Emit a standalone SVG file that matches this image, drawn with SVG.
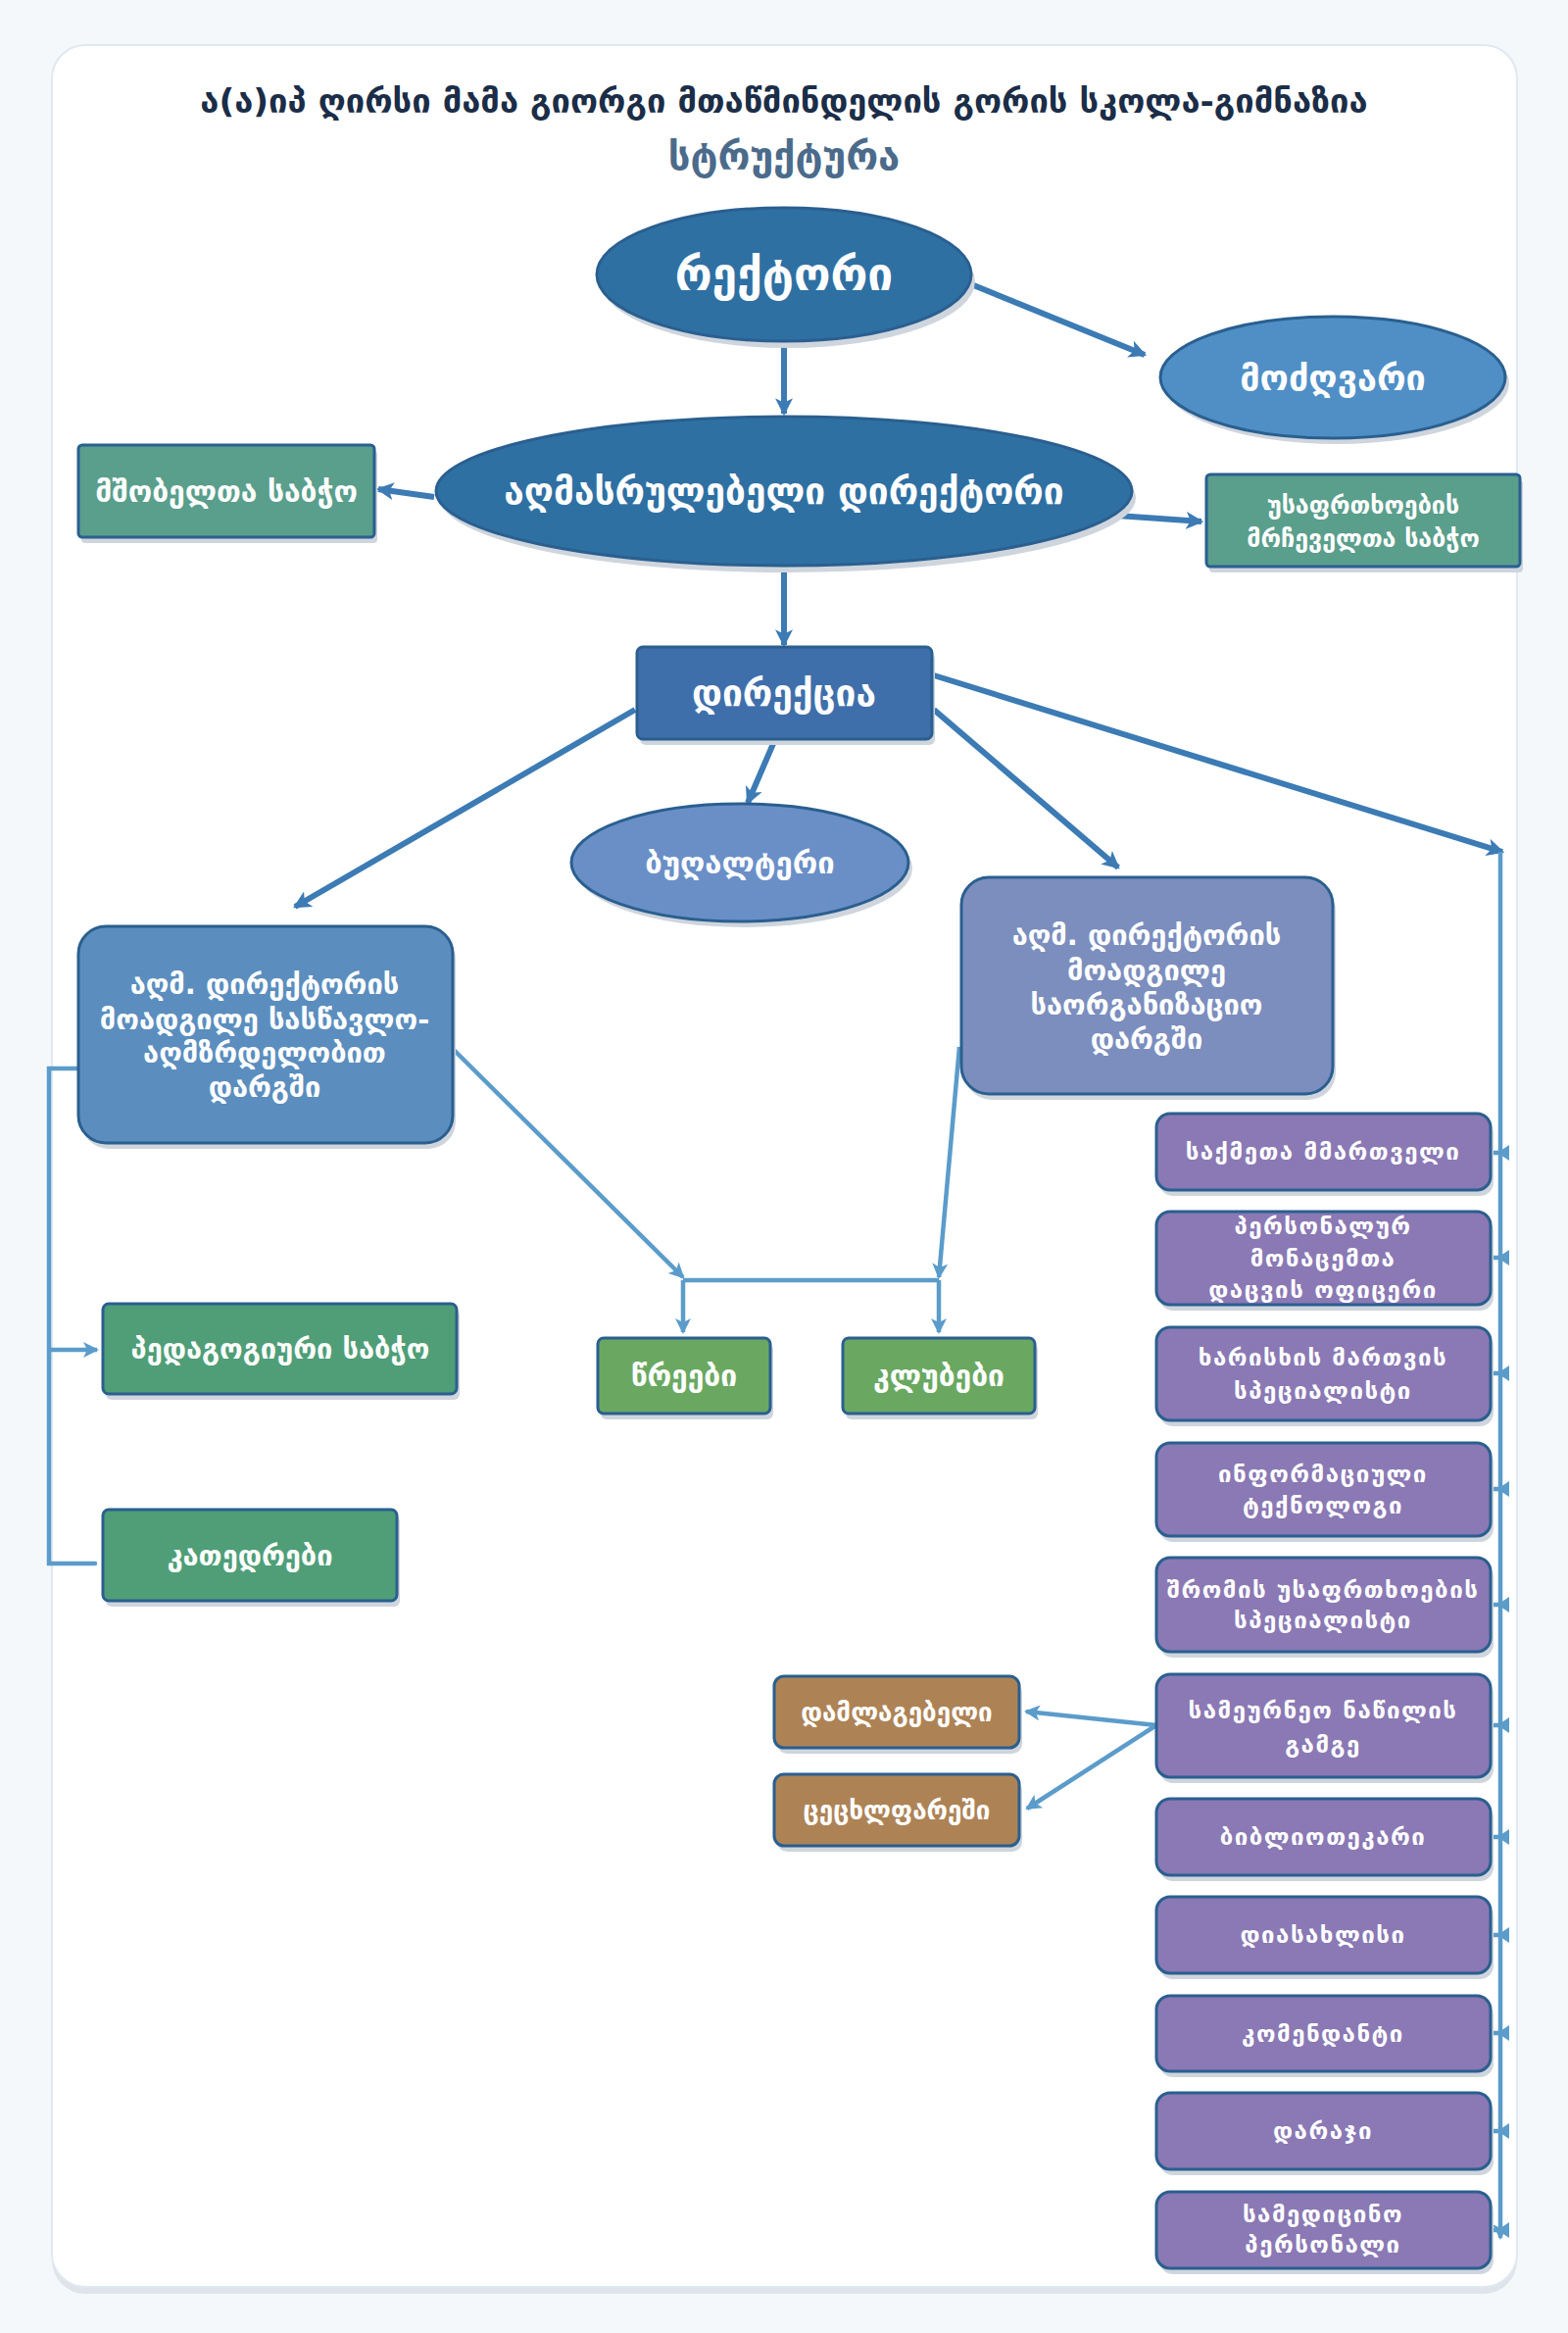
<svg xmlns="http://www.w3.org/2000/svg" width="1600" height="2380" viewBox="0 0 1600 2380">
<style>
text{font-family:"DejaVu Sans","Noto Sans",sans-serif;font-weight:bold;fill:#fff;text-anchor:middle;dominant-baseline:central}
.t1{fill:#1b2d47;font-size:34.5px}
.t2{fill:#4b6b8b;font-size:40px}
.nd{stroke:#2a5f8f;stroke-width:3}
.sh{fill:#cfd5dd}
.cd{fill:none;stroke:#3c7bb4;stroke-width:6}
.cl{fill:none;stroke:#5b9cca;stroke-width:4.5}
.pu{fill:#8a79b4}
.pt{font-size:24px;letter-spacing:1.5px}
</style>
<defs>
<marker id="ad" markerUnits="userSpaceOnUse" viewBox="0 0 16 16" refX="14" refY="8" markerWidth="18" markerHeight="18" orient="auto"><path d="M0,0 L16,8 L0,16 L4,8 z" fill="#3c7bb4"/></marker>
<marker id="al" markerUnits="userSpaceOnUse" viewBox="0 0 16 16" refX="14" refY="8" markerWidth="16" markerHeight="16" orient="auto"><path d="M0,0 L16,8 L0,16 L4,8 z" fill="#5b9cca"/></marker>
</defs>
<rect x="0" y="0" width="1600" height="2380" fill="#f4f8fb"/>
<rect x="53" y="52" width="1495" height="2288" rx="34" fill="#dfe4ea"/>
<rect x="53" y="46" width="1495" height="2287" rx="34" fill="#fff" stroke="#e0e8f1" stroke-width="2"/>
<text class="t1" x="800" y="103">ა(ა)იპ ღირსი მამა გიორგი მთაწმინდელის გორის სკოლა-გიმნაზია</text>
<text class="t2" x="800" y="159">სტრუქტურა</text>

<g id="connectors">
<path class="cd" d="M800,348 L800,422" marker-end="url(#ad)"/>
<path class="cd" d="M991,290 L1168,362" marker-end="url(#ad)"/>
<path class="cd" d="M443,507 L386,499" marker-end="url(#ad)"/>
<path class="cd" d="M1140,526 L1226,532" marker-end="url(#ad)"/>
<path class="cd" d="M800,577 L800,658" marker-end="url(#ad)"/>
<path class="cd" d="M648,724 L301,925" marker-end="url(#ad)"/>
<path class="cd" d="M791,754 L763,819" marker-end="url(#ad)"/>
<path class="cd" d="M953,724 L1141,885" marker-end="url(#ad)"/>
<path class="cd" d="M953,689 L1533,869" marker-end="url(#ad)"/>
<path class="cl" d="M1531,869 L1531,2283" marker-end="url(#al)"/>
<g fill="#5b9cca">
<path class="cl" d="M1521,1176 H1531 M1521,1283 H1531 M1521,1401 H1531 M1521,1519 H1531 M1521,1637 H1531 M1521,1760 H1531 M1521,1874 H1531 M1521,1974 H1531 M1521,2074 H1531 M1521,2174 H1531 M1521,2275 H1531"/>
<path d="M1528,1176 l12,-8 v16 z M1528,1283 l12,-8 v16 z M1528,1401 l12,-8 v16 z M1528,1519 l12,-8 v16 z M1528,1637 l12,-8 v16 z M1528,1760 l12,-8 v16 z M1528,1874 l12,-8 v16 z M1528,1974 l12,-8 v16 z M1528,2074 l12,-8 v16 z M1528,2174 l12,-8 v16 z M1528,2275 l12,-8 v16 z"/>
</g>
<path class="cl" d="M462,1070 L697,1303" marker-end="url(#al)"/>
<path class="cl" d="M979,1068 L958,1303" marker-end="url(#al)"/>
<path class="cl" d="M697,1306 L958,1306"/>
<path class="cl" d="M697,1306 L697,1359" marker-end="url(#al)"/>
<path class="cl" d="M958,1306 L958,1359" marker-end="url(#al)"/>
<path class="cl" d="M80,1090 H50 V1595 H97" stroke-linecap="round"/>
<path class="cl" d="M50,1377 H99" marker-end="url(#al)"/>
<path class="cl" d="M1180,1760 L1047,1746" marker-end="url(#al)"/>
<path class="cl" d="M1180,1760 L1048,1845" marker-end="url(#al)"/>
</g>

<g id="rector">
<ellipse class="sh" cx="804" cy="287" rx="191" ry="68"/>
<ellipse class="nd" cx="800" cy="280" rx="191" ry="68" fill="#2f70a3"/>
<text x="800" y="280" font-size="46">რექტორი</text>
</g>
<g id="modzgvari">
<ellipse class="sh" cx="1364" cy="391" rx="176" ry="62"/>
<ellipse class="nd" cx="1360" cy="385" rx="176" ry="62" fill="#4f8fc6"/>
<text x="1360" y="385" font-size="36">მოძღვარი</text>
</g>
<g id="executive">
<ellipse class="sh" cx="804" cy="508" rx="355" ry="76"/>
<ellipse class="nd" cx="800" cy="501" rx="355" ry="76" fill="#2f70a3"/>
<text x="800" y="501" font-size="37">აღმასრულებელი დირექტორი</text>
</g>
<g id="parents">
<rect class="sh" x="83" y="460" width="302" height="94" rx="4"/>
<rect class="nd" x="80" y="454" width="302" height="94" rx="4" fill="#5a9e8c"/>
<text x="231" y="501" font-size="30">მშობელთა საბჭო</text>
</g>
<g id="safety-council">
<rect class="sh" x="1234" y="490" width="320" height="94" rx="4"/>
<rect class="nd" x="1231" y="484" width="320" height="94" rx="4" fill="#5a9e8c"/>
<text x="1391" y="515" font-size="25">უსაფრთხოების</text>
<text x="1391" y="549" font-size="25">მრჩეველთა საბჭო</text>
</g>
<g id="directorate">
<rect class="sh" x="653" y="666" width="301" height="94" rx="6"/>
<rect class="nd" x="650" y="660" width="301" height="94" rx="6" fill="#3f6fab"/>
<text x="800" y="707" font-size="37">დირექცია</text>
</g>
<g id="accountant">
<ellipse class="sh" cx="759" cy="886" rx="172" ry="60"/>
<ellipse class="nd" cx="755" cy="880" rx="172" ry="60" fill="#6a8fc7"/>
<text x="755" y="880" font-size="31">ბუღალტერი</text>
</g>
<g id="deputy-edu">
<rect class="sh" x="83" y="951" width="382" height="221" rx="28"/>
<rect class="nd" x="80" y="945" width="382" height="221" rx="28" fill="#5b8ebe"/>
<text x="270" y="1004" font-size="29">აღმ. დირექტორის</text>
<text x="270" y="1040" font-size="29">მოადგილე სასწავლო-</text>
<text x="270" y="1074" font-size="29">აღმზრდელობით</text>
<text x="270" y="1109" font-size="29">დარგში</text>
</g>
<g id="deputy-org">
<rect class="sh" x="984" y="901" width="379" height="221" rx="28"/>
<rect class="nd" x="981" y="895" width="379" height="221" rx="28" fill="#7b8ebe"/>
<text x="1170" y="954" font-size="29">აღმ. დირექტორის</text>
<text x="1170" y="990" font-size="29">მოადგილე</text>
<text x="1170" y="1025" font-size="29">საორგანიზაციო</text>
<text x="1170" y="1060" font-size="29">დარგში</text>
</g>
<g id="pedagogical">
<rect class="sh" x="108" y="1336" width="361" height="92" rx="6"/>
<rect class="nd" x="105" y="1330" width="361" height="92" rx="6" fill="#4f9e78"/>
<text x="286" y="1376" font-size="29">პედაგოგიური საბჭო</text>
</g>
<g id="departments">
<rect class="sh" x="108" y="1546" width="300" height="93" rx="6"/>
<rect class="nd" x="105" y="1540" width="300" height="93" rx="6" fill="#4f9e78"/>
<text x="255" y="1587" font-size="29">კათედრები</text>
</g>
<g id="circles">
<rect class="sh" x="613" y="1371" width="176" height="77" rx="6"/>
<rect class="nd" x="610" y="1365" width="176" height="77" rx="6" fill="#6aa862"/>
<text x="698" y="1403" font-size="30">წრეები</text>
</g>
<g id="clubs">
<rect class="sh" x="863" y="1371" width="196" height="77" rx="6"/>
<rect class="nd" x="860" y="1365" width="196" height="77" rx="6" fill="#6aa862"/>
<text x="958" y="1403" font-size="30">კლუბები</text>
</g>
<g id="office-manager">
<rect class="sh" x="1183" y="1142" width="341" height="78" rx="14"/>
<rect class="nd pu" x="1180" y="1136" width="341" height="78" rx="14"/>
<text class="pt" x="1350" y="1175">საქმეთა მმართველი</text>
</g>
<g id="data-officer">
<rect class="sh" x="1183" y="1242" width="341" height="95" rx="14"/>
<rect class="nd pu" x="1180" y="1236" width="341" height="95" rx="14"/>
<text class="pt" x="1350" y="1251">პერსონალურ</text>
<text class="pt" x="1350" y="1284">მონაცემთა</text>
<text class="pt" x="1350" y="1316">დაცვის ოფიცერი</text>
</g>
<g id="quality">
<rect class="sh" x="1183" y="1360" width="341" height="95" rx="14"/>
<rect class="nd pu" x="1180" y="1354" width="341" height="95" rx="14"/>
<text class="pt" x="1350" y="1385">ხარისხის მართვის</text>
<text class="pt" x="1350" y="1419">სპეციალისტი</text>
</g>
<g id="it">
<rect class="sh" x="1183" y="1478" width="341" height="95" rx="14"/>
<rect class="nd pu" x="1180" y="1472" width="341" height="95" rx="14"/>
<text class="pt" x="1350" y="1504">ინფორმაციული</text>
<text class="pt" x="1350" y="1536">ტექნოლოგი</text>
</g>
<g id="labor-safety">
<rect class="sh" x="1183" y="1595" width="341" height="96" rx="14"/>
<rect class="nd pu" x="1180" y="1589" width="341" height="96" rx="14"/>
<text class="pt" x="1350" y="1622">შრომის უსაფრთხოების</text>
<text class="pt" x="1350" y="1653">სპეციალისტი</text>
</g>
<g id="household">
<rect class="sh" x="1183" y="1714" width="341" height="105" rx="14"/>
<rect class="nd pu" x="1180" y="1708" width="341" height="105" rx="14"/>
<text class="pt" x="1350" y="1745">სამეურნეო ნაწილის</text>
<text class="pt" x="1350" y="1780">გამგე</text>
</g>
<g id="librarian">
<rect class="sh" x="1183" y="1841" width="341" height="78" rx="14"/>
<rect class="nd pu" x="1180" y="1835" width="341" height="78" rx="14"/>
<text class="pt" x="1350" y="1874">ბიბლიოთეკარი</text>
</g>
<g id="housekeeper">
<rect class="sh" x="1183" y="1941" width="341" height="78" rx="14"/>
<rect class="nd pu" x="1180" y="1935" width="341" height="78" rx="14"/>
<text class="pt" x="1350" y="1974">დიასახლისი</text>
</g>
<g id="commandant">
<rect class="sh" x="1183" y="2042" width="341" height="77" rx="14"/>
<rect class="nd pu" x="1180" y="2036" width="341" height="77" rx="14"/>
<text class="pt" x="1350" y="2075">კომენდანტი</text>
</g>
<g id="guard">
<rect class="sh" x="1183" y="2141" width="341" height="78" rx="14"/>
<rect class="nd pu" x="1180" y="2135" width="341" height="78" rx="14"/>
<text class="pt" x="1350" y="2174">დარაჯი</text>
</g>
<g id="medical">
<rect class="sh" x="1183" y="2242" width="341" height="78" rx="14"/>
<rect class="nd pu" x="1180" y="2236" width="341" height="78" rx="14"/>
<text class="pt" x="1350" y="2259">სამედიცინო</text>
<text class="pt" x="1350" y="2290">პერსონალი</text>
</g>
<g id="cleaner">
<rect class="sh" x="793" y="1716" width="250" height="73" rx="10"/>
<rect class="nd" x="790" y="1710" width="250" height="73" rx="10" fill="#ad8356"/>
<text x="915" y="1747" font-size="26">დამლაგებელი</text>
</g>
<g id="gardener">
<rect class="sh" x="793" y="1816" width="250" height="73" rx="10"/>
<rect class="nd" x="790" y="1810" width="250" height="73" rx="10" fill="#ad8356"/>
<text x="915" y="1847" font-size="26">ცეცხლფარეში</text>
</g>
</svg>
